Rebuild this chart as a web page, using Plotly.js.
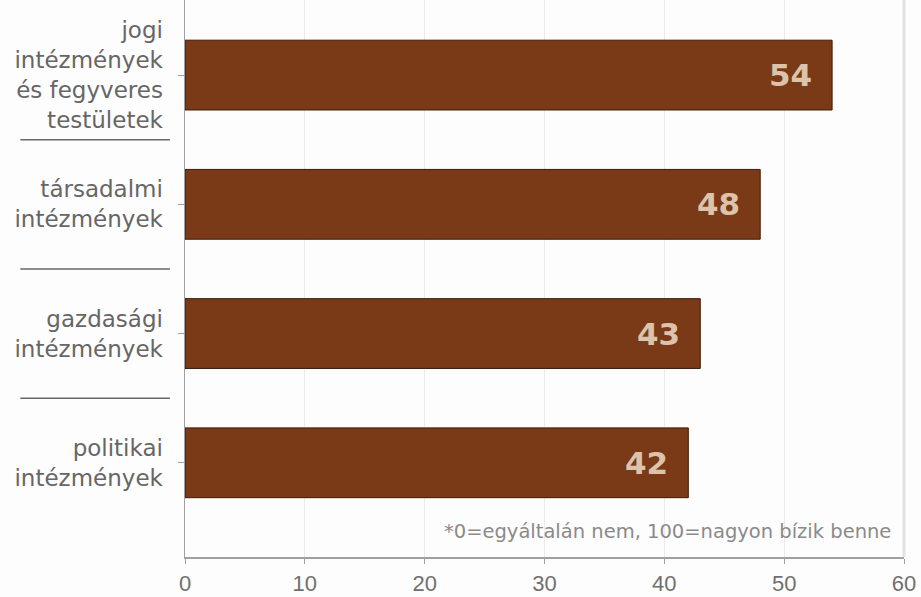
<!DOCTYPE html>
<html>
<head>
<meta charset="utf-8">
<script src="https://cdn.plot.ly/plotly-3.0.1.min.js"></script>
<style>html,body{margin:0;padding:0;background:#fff;}#chart{width:921px;height:597px;}</style>
</head>
<body>
<div id="chart"></div>
<script>
const categories = [
  "jogi<br>intézmények<br>és fegyveres<br>testületek",
  "társadalmi<br>intézmények",
  "gazdasági<br>intézmények",
  "politikai<br>intézmények"
];
const values = [54, 48, 43, 42];
const xTicks = [0, 10, 20, 30, 40, 50, 60];
const footnote = "*0=egyáltalán nem, 100=nagyon bízik benne";

const trace = {
  type: "bar",
  orientation: "h",
  x: values,
  y: categories.map((c, i) => i),
  width: 0.54,
  marker: { color: "#7a3a17", line: { color: "#3a1a08", width: 1 } },
  hoverinfo: "none"
};

const annotations = values.map((v, i) => ({
  x: v, y: i, xref: "x", yref: "y",
  text: String(v), showarrow: false,
  xanchor: "right", xshift: -18,
  font: { family: "DejaVu Sans", size: 31, color: "#dcc3aa", weight: "bold" }
}));
annotations.push({
  x: 0.985, y: 0.0, xref: "paper", yref: "paper",
  xanchor: "right", yanchor: "bottom", yshift: 12,
  text: footnote, showarrow: false,
  font: { family: "DejaVu Sans", size: 19.5, color: "#8a8a8a" }
});

const shapes = [];
for (let i = 0; i < categories.length - 1; i++) {
  shapes.push({
    type: "line", xref: "paper", yref: "y",
    x0: -0.229, x1: -0.021, y0: i + 0.5, y1: i + 0.5,
    line: { color: "#666", width: 1.5 }
  });
}
shapes.push({
  type: "line", xref: "paper", yref: "paper",
  x0: 1, x1: 1, y0: 0, y1: 1,
  line: { color: "#e2e2e2", width: 3 }
});

const layout = {
  width: 921, height: 597,
  margin: { l: 185, r: 17, t: 0, b: 40 },
  paper_bgcolor: "#fdfdfd",
  plot_bgcolor: "#fdfdfd",
  showlegend: false,
  xaxis: {
    range: [0, 60],
    tickvals: xTicks,
    ticktext: xTicks.map(String),
    showgrid: true, gridcolor: "#ebebeb", gridwidth: 1,
    zeroline: false,
    showline: true, linecolor: "#a0a0a0", linewidth: 1.5,
    ticks: "outside", ticklen: 5, tickcolor: "#a0a0a0",
    tickfont: { family: "Liberation Sans", size: 22, color: "#707070" },
    ticklabelstandoff: 1,
    fixedrange: true
  },
  yaxis: {
    range: [3.729, -0.581],
    tickvals: categories.map((c, i) => i),
    ticktext: categories,
    showgrid: false, zeroline: false,
    showline: true, linecolor: "#a0a0a0", linewidth: 1.5,
    ticks: "outside", ticklen: 6, tickcolor: "#a0a0a0",
    tickfont: { family: "DejaVu Sans", size: 23, color: "#666" },
    ticklabelstandoff: 10,
    fixedrange: true
  },
  annotations: annotations,
  shapes: shapes
};

Plotly.newPlot("chart", [trace], layout, { displayModeBar: false, staticPlot: true });
</script>
</body>
</html>
